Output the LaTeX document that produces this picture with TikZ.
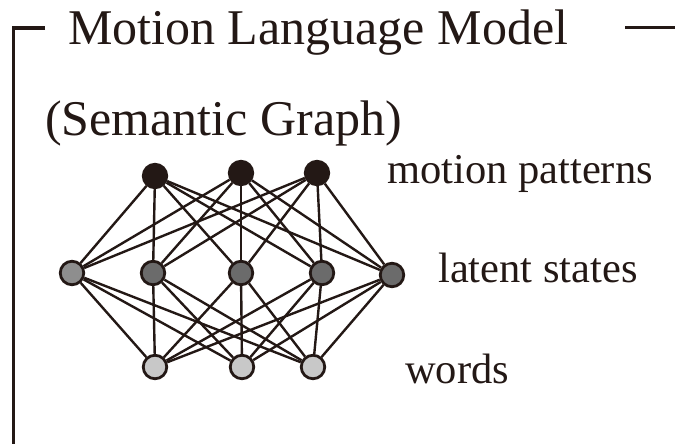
\documentclass[tikz,border=0pt]{standalone}
\usepackage{fontspec}
\setmainfont{Liberation Serif}
\definecolor{ink}{HTML}{231815}
\definecolor{midgray}{HTML}{6B6B6B}
\definecolor{litegray}{HTML}{8E8E8E}
\definecolor{palegray}{HTML}{C8C8C8}
\begin{document}
\begin{tikzpicture}[x=1pt,y=-1pt,
  unit/.style={circle,draw=ink,line width=2.8pt,minimum size=23.5pt,inner sep=0pt},
  toprow/.style={unit,fill=ink},
  midrow/.style={unit,fill=midgray},
  botrow/.style={unit,fill=palegray},
  link/.style={draw=ink,line width=2.4pt},
  frame/.style={draw=ink,line width=3.8pt},
  bigtext/.style={inner sep=0pt,anchor=base west,text=ink,font=\fontsize{50}{60}\selectfont},
  labeltext/.style={inner sep=0pt,anchor=base west,text=ink,font=\fontsize{42.5}{50}\selectfont}]
\useasboundingbox (0,0) rectangle (675,444);
% frame
\coordinate (fa) at (45,28);
\coordinate (fb) at (13.5,28);
\coordinate (fc) at (13.5,444);
\coordinate (fd) at (625,28);
\coordinate (fe) at (675,28);
\draw[frame] (fa) -- (fb) -- (fc);
\draw[draw=ink,line width=3pt] (fd) -- (fe);
% titles
\node[bigtext] (title) at (68,45) {Motion Language Model};
\node[bigtext] (sub) at (45,135) {(Semantic Graph)};
% nodes
\node[toprow] (t1) at (155,176) {};
\node[toprow] (t2) at (241,173) {};
\node[toprow] (t3) at (317,173) {};
\node[unit,fill=litegray] (l1) at (72,273) {};
\node[midrow] (l2) at (153,273) {};
\node[midrow] (l3) at (241,273) {};
\node[midrow] (l4) at (322,273) {};
\node[midrow] (l5) at (392,275) {};
\node[botrow] (w1) at (155,367) {};
\node[botrow] (w2) at (242,367) {};
\node[botrow] (w3) at (313,367) {};
% links
\foreach \a in {t1,t2,t3}{
  \foreach \b in {l1,l2,l3,l4,l5}{
    \draw[link] (\a) -- (\b);
  }
}
\foreach \a in {l1,l2,l3,l4,l5}{
  \foreach \b in {w1,w2,w3}{
    \draw[link] (\a) -- (\b);
  }
}
% labels
\node[labeltext] (lmp) at (387,183) {motion patterns};
\node[labeltext] (lls) at (438,282) {latent states};
\node[labeltext] (lw) at (405,383) {words};
\end{tikzpicture}
\end{document}
